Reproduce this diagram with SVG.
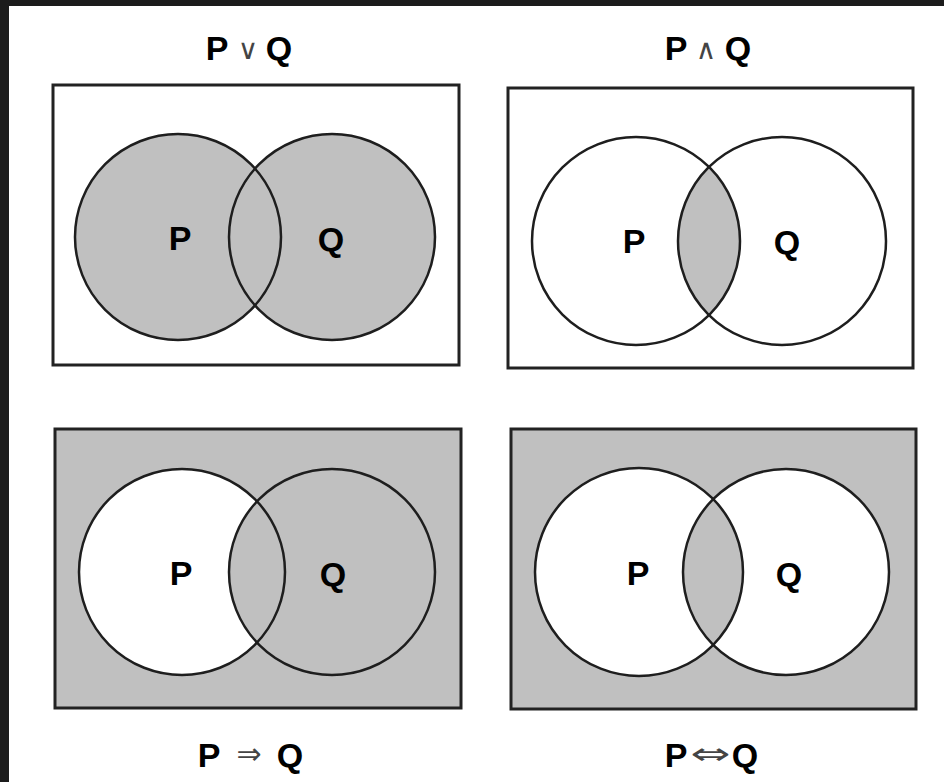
<svg xmlns="http://www.w3.org/2000/svg" width="944" height="782" viewBox="0 0 944 782">
<style>
.frame{fill:#1c1c1c}
.box{stroke:#222;stroke-width:3}
.c{fill:none;stroke:#1e1e1e;stroke-width:2.5}
.g{fill:#c0c0c0}
.w{fill:#fff}
.lbl{font-family:"Liberation Sans",Arial,sans-serif;font-weight:bold;font-size:34px;fill:#000;text-anchor:middle}
.op{font-family:"DejaVu Sans",sans-serif;font-weight:normal;fill:#444;text-anchor:middle}
</style>
<defs>
<clipPath id="cp2"><circle cx="636" cy="241" r="104"/></clipPath>
<clipPath id="cp4"><circle cx="639" cy="572" r="104"/></clipPath>
</defs>
<rect width="944" height="782" fill="#fff"/>
<rect class="frame" x="0" y="0" width="944" height="6"/>
<rect class="frame" x="0" y="0" width="9" height="782"/>

<g id="or">
<rect class="box" x="53" y="85" width="406" height="280" fill="#fff"/>
<circle class="g" cx="178" cy="237" r="103"/>
<circle class="g" cx="332" cy="237" r="103"/>
<circle class="c" cx="178" cy="237" r="103"/>
<circle class="c" cx="332" cy="237" r="103"/>
<text class="lbl" x="180" y="250">P</text>
<text class="lbl" x="331" y="251">Q</text>
<text class="lbl" x="217" y="60">P</text>
<text class="op" x="248" y="59" font-size="28">∨</text>
<text class="lbl" x="279" y="60">Q</text>
</g>

<g id="and">
<rect class="box" x="508" y="88" width="405" height="280" fill="#fff"/>
<circle class="g" cx="782" cy="241" r="104" clip-path="url(#cp2)"/>
<circle class="c" cx="636" cy="241" r="104"/>
<circle class="c" cx="782" cy="241" r="104"/>
<text class="lbl" x="634" y="253">P</text>
<text class="lbl" x="787" y="254">Q</text>
<text class="lbl" x="676" y="60">P</text>
<text class="op" x="706" y="59" font-size="28">∧</text>
<text class="lbl" x="738" y="60">Q</text>
</g>

<g id="implies">
<rect class="box g" x="55" y="429" width="406" height="279"/>
<circle class="w" cx="182" cy="572" r="103"/>
<circle class="g" cx="332" cy="572" r="103"/>
<circle class="c" cx="182" cy="572" r="103"/>
<circle class="c" cx="332" cy="572" r="103"/>
<text class="lbl" x="181" y="585">P</text>
<text class="lbl" x="333" y="586">Q</text>
<text class="lbl" x="209" y="767">P</text>
<text class="op" x="249" y="764" font-size="30">⇒</text>
<text class="lbl" x="290" y="767">Q</text>
</g>

<g id="iff">
<rect class="box g" x="511" y="429" width="405" height="280"/>
<circle class="w" cx="639" cy="572" r="104"/>
<circle class="w" cx="786" cy="572" r="103"/>
<circle class="g" cx="786" cy="572" r="103" clip-path="url(#cp4)"/>
<circle class="c" cx="639" cy="572" r="104"/>
<circle class="c" cx="786" cy="572" r="103"/>
<text class="lbl" x="638" y="585">P</text>
<text class="lbl" x="789" y="586">Q</text>
<text class="lbl" x="676" y="767">P</text>
<text class="op" transform="translate(710,764) scale(1.6,1)" font-size="30">⇔</text>
<text class="lbl" x="745" y="767">Q</text>
</g>
</svg>
